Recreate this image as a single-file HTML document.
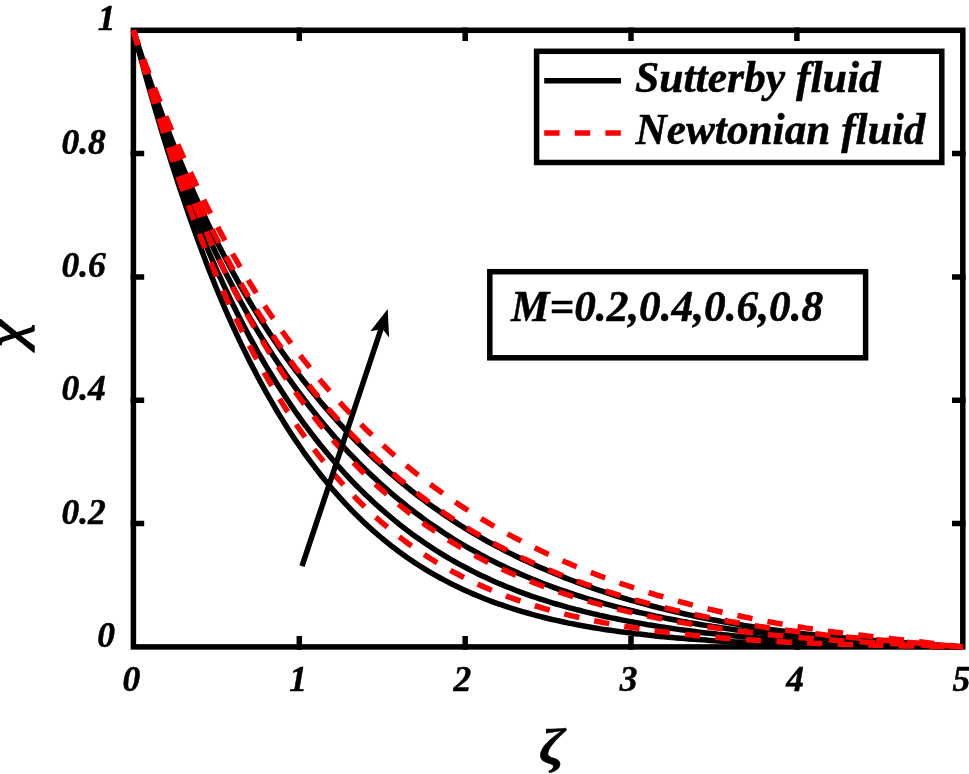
<!DOCTYPE html>
<html><head><meta charset="utf-8"><title>Sutterby fluid vs Newtonian fluid</title>
<style>
html,body{margin:0;padding:0;background:#fff;}
body{width:969px;height:774px;overflow:hidden;position:relative;}
svg{display:block;position:absolute;left:0;top:0;}
text{font-family:"Liberation Serif","DejaVu Serif",serif;font-weight:bold;font-style:italic;fill:#000;stroke:#000;stroke-width:0.5px;}
.tk{font-size:35.5px;}
.lg{font-size:43.3px;}
.ax{fill:none;stroke:#000;stroke-width:5.5;stroke-linecap:butt;}
.bk{fill:none;stroke:#000;stroke-width:5.5;stroke-linejoin:round;}
.rd{fill:none;stroke:#f00;stroke-width:5.5;stroke-dasharray:15.4 15.2;stroke-linejoin:round;}
</style></head><body>
<svg width="969" height="774" viewBox="0 0 969 774">
<rect x="0" y="0" width="969" height="774" fill="#fff"/>

<!-- axes -->
<rect class="ax" x="133.4" y="30.3" width="829.4" height="616.6"/>
<path class="ax" d="M299.3,27.55 V41.1 M299.3,649.65 V636.1 M465.2,27.55 V41.1 M465.2,649.65 V636.1 M631.0,27.55 V41.1 M631.0,649.65 V636.1 M796.9,27.55 V41.1 M796.9,649.65 V636.1 M130.65,523.6 H144.2 M965.55,523.6 H952.0 M130.65,400.3 H144.2 M965.55,400.3 H952.0 M130.65,276.9 H144.2 M965.55,276.9 H952.0 M130.65,153.6 H144.2 M965.55,153.6 H952.0"/>
<!-- curves: solid = Sutterby fluid, dashed = Newtonian fluid -->
<g>
<path class="bk" d="M133.4,30.3 L137.5,46.0 L141.7,61.4 L145.8,76.4 L150.0,91.2 L154.1,105.6 L158.3,119.7 L162.4,133.5 L166.6,147.0 L170.7,160.3 L174.9,173.2 L179.0,185.9 L183.2,198.2 L187.3,210.4 L191.5,222.3 L195.6,233.9 L199.8,245.3 L203.9,256.4 L208.0,267.2 L212.2,277.7 L216.3,288.0 L220.5,297.9 L224.6,307.7 L228.8,317.1 L232.9,326.3 L237.1,335.3 L241.2,344.1 L245.4,352.6 L249.5,361.0 L253.7,369.1 L257.8,377.0 L262.0,384.7 L266.1,392.2 L270.3,399.5 L274.4,406.7 L278.5,413.6 L282.7,420.4 L286.8,427.0 L291.0,433.5 L295.1,439.7 L299.3,445.8 L303.4,451.8 L307.6,457.6 L311.7,463.2 L315.9,468.7 L320.0,474.0 L324.2,479.2 L328.3,484.3 L332.5,489.2 L336.6,493.9 L340.8,498.6 L344.9,503.1 L349.0,507.5 L353.2,511.8 L357.3,515.9 L361.5,520.0 L365.6,523.9 L369.8,527.7 L373.9,531.4 L378.1,535.0 L382.2,538.5 L386.4,541.9 L390.5,545.2 L394.7,548.4 L398.8,551.5 L403.0,554.5 L407.1,557.5 L411.2,560.3 L415.4,563.1 L419.5,565.7 L423.7,568.3 L427.8,570.9 L432.0,573.3 L436.1,575.7 L440.3,578.0 L444.4,580.2 L448.6,582.4 L452.7,584.5 L456.9,586.5 L461.0,588.5 L465.2,590.4 L469.3,592.3 L473.5,594.1 L477.6,595.8 L481.7,597.5 L485.9,599.2 L490.0,600.8 L494.2,602.3 L498.3,603.8 L502.5,605.2 L506.6,606.6 L510.8,608.0 L514.9,609.3 L519.1,610.6 L523.2,611.8 L527.4,613.0 L531.5,614.2 L535.7,615.3 L539.8,616.4 L544.0,617.5 L548.1,618.5 L552.2,619.5 L556.4,620.4 L560.5,621.3 L564.7,622.2 L568.8,623.1 L573.0,623.9 L577.1,624.8 L581.3,625.5 L585.4,626.3 L589.6,627.0 L593.7,627.7 L597.9,628.4 L602.0,629.1 L606.2,629.7 L610.3,630.3 L614.5,630.9 L618.6,631.5 L622.7,632.1 L626.9,632.6 L631.0,633.1 L635.2,633.7 L639.3,634.1 L643.5,634.6 L647.6,635.1 L651.8,635.5 L655.9,635.9 L660.1,636.4 L664.2,636.8 L668.4,637.2 L672.5,637.5 L676.7,637.9 L680.8,638.2 L685.0,638.6 L689.1,638.9 L693.2,639.2 L697.4,639.5 L701.5,639.8 L705.7,640.1 L709.8,640.4 L714.0,640.7 L718.1,640.9 L722.3,641.2 L726.4,641.4 L730.6,641.6 L734.7,641.9 L738.9,642.1 L743.0,642.3 L747.2,642.5 L751.3,642.7 L755.4,642.9 L759.6,643.0 L763.7,643.2 L767.9,643.4 L772.0,643.5 L776.2,643.7 L780.3,643.8 L784.5,644.0 L788.6,644.1 L792.8,644.3 L796.9,644.4 L801.1,644.5 L805.2,644.6 L809.4,644.7 L813.5,644.8 L817.7,645.0 L821.8,645.1 L825.9,645.1 L830.1,645.2 L834.2,645.3 L838.4,645.4 L842.5,645.5 L846.7,645.6 L850.8,645.6 L855.0,645.7 L859.1,645.8 L863.3,645.8 L867.4,645.9 L871.6,646.0 L875.7,646.0 L879.9,646.1 L884.0,646.1 L888.2,646.2 L892.3,646.2 L896.4,646.3 L900.6,646.3 L904.7,646.4 L908.9,646.4 L913.0,646.5 L917.2,646.5 L921.3,646.6 L925.5,646.6 L929.6,646.6 L933.8,646.7 L937.9,646.7 L942.1,646.8 L946.2,646.8 L950.4,646.8 L954.5,646.8 L958.7,646.9 L962.8,646.9"/>
<path class="bk" d="M133.4,30.3 L137.5,45.2 L141.7,59.7 L145.8,73.9 L150.0,87.7 L154.1,101.2 L158.3,114.4 L162.4,127.2 L166.6,139.8 L170.7,152.0 L174.9,164.0 L179.0,175.7 L183.2,187.1 L187.3,198.2 L191.5,209.0 L195.6,219.6 L199.8,230.0 L203.9,240.1 L208.0,250.0 L212.2,259.6 L216.3,269.0 L220.5,278.2 L224.6,287.2 L228.8,296.0 L232.9,304.5 L237.1,312.9 L241.2,321.0 L245.4,329.0 L249.5,336.8 L253.7,344.3 L257.8,351.8 L262.0,359.0 L266.1,366.1 L270.3,373.0 L274.4,379.7 L278.5,386.3 L282.7,392.7 L286.8,399.0 L291.0,405.2 L295.1,411.2 L299.3,417.1 L303.4,422.8 L307.6,428.4 L311.7,433.9 L315.9,439.2 L320.0,444.5 L324.2,449.6 L328.3,454.6 L332.5,459.5 L336.6,464.3 L340.8,468.9 L344.9,473.5 L349.0,477.9 L353.2,482.3 L357.3,486.5 L361.5,490.6 L365.6,494.7 L369.8,498.6 L373.9,502.5 L378.1,506.2 L382.2,509.9 L386.4,513.5 L390.5,517.0 L394.7,520.5 L398.8,523.8 L403.0,527.1 L407.1,530.3 L411.2,533.4 L415.4,536.4 L419.5,539.3 L423.7,542.2 L427.8,545.0 L432.0,547.8 L436.1,550.5 L440.3,553.1 L444.4,555.6 L448.6,558.1 L452.7,560.5 L456.9,562.8 L461.0,565.1 L465.2,567.3 L469.3,569.5 L473.5,571.6 L477.6,573.7 L481.7,575.7 L485.9,577.6 L490.0,579.5 L494.2,581.4 L498.3,583.2 L502.5,584.9 L506.6,586.7 L510.8,588.3 L514.9,590.0 L519.1,591.6 L523.2,593.1 L527.4,594.6 L531.5,596.1 L535.7,597.5 L539.8,598.9 L544.0,600.2 L548.1,601.5 L552.2,602.8 L556.4,604.0 L560.5,605.2 L564.7,606.4 L568.8,607.6 L573.0,608.7 L577.1,609.8 L581.3,610.8 L585.4,611.9 L589.6,612.9 L593.7,613.9 L597.9,614.8 L602.0,615.8 L606.2,616.7 L610.3,617.6 L614.5,618.4 L618.6,619.3 L622.7,620.1 L626.9,620.9 L631.0,621.7 L635.2,622.5 L639.3,623.2 L643.5,623.9 L647.6,624.7 L651.8,625.3 L655.9,626.0 L660.1,626.7 L664.2,627.3 L668.4,627.9 L672.5,628.5 L676.7,629.1 L680.8,629.7 L685.0,630.3 L689.1,630.8 L693.2,631.3 L697.4,631.9 L701.5,632.4 L705.7,632.9 L709.8,633.3 L714.0,633.8 L718.1,634.3 L722.3,634.7 L726.4,635.1 L730.6,635.5 L734.7,635.9 L738.9,636.3 L743.0,636.7 L747.2,637.1 L751.3,637.5 L755.4,637.8 L759.6,638.2 L763.7,638.5 L767.9,638.8 L772.0,639.1 L776.2,639.4 L780.3,639.7 L784.5,640.0 L788.6,640.3 L792.8,640.6 L796.9,640.9 L801.1,641.1 L805.2,641.4 L809.4,641.6 L813.5,641.8 L817.7,642.1 L821.8,642.3 L825.9,642.5 L830.1,642.7 L834.2,642.9 L838.4,643.1 L842.5,643.3 L846.7,643.4 L850.8,643.6 L855.0,643.8 L859.1,643.9 L863.3,644.1 L867.4,644.2 L871.6,644.3 L875.7,644.5 L879.9,644.6 L884.0,644.8 L888.2,644.9 L892.3,645.0 L896.4,645.2 L900.6,645.3 L904.7,645.4 L908.9,645.5 L913.0,645.7 L917.2,645.8 L921.3,645.9 L925.5,646.0 L929.6,646.1 L933.8,646.2 L937.9,646.3 L942.1,646.4 L946.2,646.5 L950.4,646.6 L954.5,646.7 L958.7,646.8 L962.8,646.9"/>
<path class="bk" d="M133.4,30.3 L137.5,44.4 L141.7,58.2 L145.8,71.5 L150.0,84.6 L154.1,97.3 L158.3,109.7 L162.4,121.7 L166.6,133.5 L170.7,144.9 L174.9,156.1 L179.0,167.0 L183.2,177.6 L187.3,188.0 L191.5,198.1 L195.6,208.0 L199.8,217.6 L203.9,227.0 L208.0,236.2 L212.2,245.2 L216.3,254.0 L220.5,262.6 L224.6,270.9 L228.8,279.1 L232.9,287.1 L237.1,294.9 L241.2,302.5 L245.4,310.0 L249.5,317.3 L253.7,324.4 L257.8,331.3 L262.0,338.1 L266.1,344.7 L270.3,351.2 L274.4,357.6 L278.5,363.8 L282.7,369.9 L286.8,375.8 L291.0,381.7 L295.1,387.4 L299.3,393.0 L303.4,398.5 L307.6,404.0 L311.7,409.3 L315.9,414.5 L320.0,419.6 L324.2,424.7 L328.3,429.6 L332.5,434.4 L336.6,439.2 L340.8,443.8 L344.9,448.4 L349.0,452.8 L353.2,457.2 L357.3,461.5 L361.5,465.6 L365.6,469.7 L369.8,473.7 L373.9,477.6 L378.1,481.5 L382.2,485.2 L386.4,488.9 L390.5,492.5 L394.7,496.1 L398.8,499.5 L403.0,502.9 L407.1,506.3 L411.2,509.5 L415.4,512.7 L419.5,515.8 L423.7,518.9 L427.8,521.9 L432.0,524.8 L436.1,527.6 L440.3,530.4 L444.4,533.2 L448.6,535.9 L452.7,538.5 L456.9,541.0 L461.0,543.5 L465.2,546.0 L469.3,548.4 L473.5,550.7 L477.6,553.0 L481.7,555.3 L485.9,557.5 L490.0,559.6 L494.2,561.7 L498.3,563.8 L502.5,565.8 L506.6,567.8 L510.8,569.7 L514.9,571.6 L519.1,573.4 L523.2,575.3 L527.4,577.0 L531.5,578.7 L535.7,580.4 L539.8,582.1 L544.0,583.7 L548.1,585.3 L552.2,586.8 L556.4,588.3 L560.5,589.8 L564.7,591.2 L568.8,592.7 L573.0,594.0 L577.1,595.4 L581.3,596.7 L585.4,598.0 L589.6,599.3 L593.7,600.5 L597.9,601.7 L602.0,602.9 L606.2,604.1 L610.3,605.2 L614.5,606.3 L618.6,607.4 L622.7,608.5 L626.9,609.5 L631.0,610.5 L635.2,611.5 L639.3,612.5 L643.5,613.4 L647.6,614.3 L651.8,615.3 L655.9,616.1 L660.1,617.0 L664.2,617.9 L668.4,618.7 L672.5,619.5 L676.7,620.3 L680.8,621.1 L685.0,621.8 L689.1,622.6 L693.2,623.3 L697.4,624.0 L701.5,624.7 L705.7,625.4 L709.8,626.0 L714.0,626.7 L718.1,627.3 L722.3,627.9 L726.4,628.5 L730.6,629.1 L734.7,629.7 L738.9,630.2 L743.0,630.8 L747.2,631.3 L751.3,631.8 L755.4,632.3 L759.6,632.8 L763.7,633.3 L767.9,633.8 L772.0,634.2 L776.2,634.7 L780.3,635.1 L784.5,635.5 L788.6,635.9 L792.8,636.3 L796.9,636.7 L801.1,637.1 L805.2,637.5 L809.4,637.8 L813.5,638.2 L817.7,638.5 L821.8,638.9 L825.9,639.2 L830.1,639.5 L834.2,639.8 L838.4,640.1 L842.5,640.4 L846.7,640.7 L850.8,640.9 L855.0,641.2 L859.1,641.4 L863.3,641.7 L867.4,641.9 L871.6,642.2 L875.7,642.4 L879.9,642.6 L884.0,642.9 L888.2,643.1 L892.3,643.3 L896.4,643.5 L900.6,643.8 L904.7,644.0 L908.9,644.2 L913.0,644.4 L917.2,644.7 L921.3,644.9 L925.5,645.1 L929.6,645.3 L933.8,645.5 L937.9,645.7 L942.1,645.9 L946.2,646.1 L950.4,646.3 L954.5,646.5 L958.7,646.7 L962.8,646.9"/>
<path class="bk" d="M133.4,30.3 L137.5,43.4 L141.7,56.1 L145.8,68.5 L150.0,80.7 L154.1,92.5 L158.3,104.1 L162.4,115.4 L166.6,126.4 L170.7,137.2 L174.9,147.7 L179.0,158.0 L183.2,168.0 L187.3,177.8 L191.5,187.4 L195.6,196.8 L199.8,205.9 L203.9,214.9 L208.0,223.7 L212.2,232.2 L216.3,240.6 L220.5,248.8 L224.6,256.8 L228.8,264.7 L232.9,272.4 L237.1,279.9 L241.2,287.3 L245.4,294.5 L249.5,301.5 L253.7,308.4 L257.8,315.1 L262.0,321.7 L266.1,328.1 L270.3,334.4 L274.4,340.6 L278.5,346.7 L282.7,352.6 L286.8,358.4 L291.0,364.1 L295.1,369.7 L299.3,375.1 L303.4,380.5 L307.6,385.8 L311.7,391.0 L315.9,396.1 L320.0,401.2 L324.2,406.1 L328.3,410.9 L332.5,415.6 L336.6,420.3 L340.8,424.9 L344.9,429.3 L349.0,433.7 L353.2,438.0 L357.3,442.3 L361.5,446.4 L365.6,450.5 L369.8,454.5 L373.9,458.4 L378.1,462.2 L382.2,466.0 L386.4,469.7 L390.5,473.4 L394.7,476.9 L398.8,480.4 L403.0,483.9 L407.1,487.2 L411.2,490.5 L415.4,493.8 L419.5,497.0 L423.7,500.1 L427.8,503.2 L432.0,506.2 L436.1,509.1 L440.3,512.0 L444.4,514.9 L448.6,517.7 L452.7,520.4 L456.9,523.1 L461.0,525.7 L465.2,528.3 L469.3,530.8 L473.5,533.3 L477.6,535.7 L481.7,538.1 L485.9,540.5 L490.0,542.8 L494.2,545.0 L498.3,547.2 L502.5,549.4 L506.6,551.5 L510.8,553.6 L514.9,555.7 L519.1,557.7 L523.2,559.7 L527.4,561.6 L531.5,563.5 L535.7,565.4 L539.8,567.2 L544.0,569.0 L548.1,570.8 L552.2,572.5 L556.4,574.3 L560.5,575.9 L564.7,577.6 L568.8,579.2 L573.0,580.8 L577.1,582.4 L581.3,583.9 L585.4,585.5 L589.6,586.9 L593.7,588.4 L597.9,589.8 L602.0,591.2 L606.2,592.6 L610.3,594.0 L614.5,595.3 L618.6,596.6 L622.7,597.8 L626.9,599.1 L631.0,600.3 L635.2,601.4 L639.3,602.6 L643.5,603.7 L647.6,604.9 L651.8,606.0 L655.9,607.0 L660.1,608.1 L664.2,609.1 L668.4,610.1 L672.5,611.1 L676.7,612.1 L680.8,613.0 L685.0,614.0 L689.1,614.9 L693.2,615.8 L697.4,616.7 L701.5,617.5 L705.7,618.4 L709.8,619.2 L714.0,620.0 L718.1,620.8 L722.3,621.6 L726.4,622.3 L730.6,623.1 L734.7,623.8 L738.9,624.5 L743.0,625.2 L747.2,625.9 L751.3,626.5 L755.4,627.2 L759.6,627.8 L763.7,628.4 L767.9,629.0 L772.0,629.6 L776.2,630.2 L780.3,630.8 L784.5,631.3 L788.6,631.9 L792.8,632.4 L796.9,632.9 L801.1,633.4 L805.2,633.9 L809.4,634.4 L813.5,634.8 L817.7,635.3 L821.8,635.7 L825.9,636.2 L830.1,636.6 L834.2,637.0 L838.4,637.4 L842.5,637.8 L846.7,638.1 L850.8,638.5 L855.0,638.9 L859.1,639.2 L863.3,639.5 L867.4,639.8 L871.6,640.2 L875.7,640.5 L879.9,640.8 L884.0,641.1 L888.2,641.5 L892.3,641.8 L896.4,642.1 L900.6,642.4 L904.7,642.7 L908.9,643.0 L913.0,643.3 L917.2,643.6 L921.3,644.0 L925.5,644.3 L929.6,644.6 L933.8,644.9 L937.9,645.2 L942.1,645.5 L946.2,645.8 L950.4,646.0 L954.5,646.3 L958.7,646.6 L962.8,646.9"/>
<path class="rd" d="M133.4,30.3 L137.5,45.5 L141.7,60.3 L145.8,74.7 L150.0,88.9 L154.1,102.7 L158.3,116.1 L162.4,129.3 L166.6,142.2 L170.7,154.7 L174.9,167.0 L179.0,179.0 L183.2,190.7 L187.3,202.2 L191.5,213.4 L195.6,224.3 L199.8,235.0 L203.9,245.5 L208.0,255.7 L212.2,265.7 L216.3,275.4 L220.5,284.9 L224.6,294.2 L228.8,303.3 L232.9,312.2 L237.1,320.9 L241.2,329.3 L245.4,337.6 L249.5,345.7 L253.7,353.6 L257.8,361.3 L262.0,368.8 L266.1,376.2 L270.3,383.3 L274.4,390.3 L278.5,397.2 L282.7,403.9 L286.8,410.4 L291.0,416.7 L295.1,422.9 L299.3,429.0 L303.4,434.9 L307.6,440.6 L311.7,446.3 L315.9,451.7 L320.0,457.1 L324.2,462.3 L328.3,467.4 L332.5,472.3 L336.6,477.2 L340.8,481.9 L344.9,486.5 L349.0,490.9 L353.2,495.3 L357.3,499.5 L361.5,503.7 L365.6,507.7 L369.8,511.6 L373.9,515.5 L378.1,519.2 L382.2,522.8 L386.4,526.4 L390.5,529.8 L394.7,533.2 L398.8,536.4 L403.0,539.6 L407.1,542.7 L411.2,545.7 L415.4,548.6 L419.5,551.5 L423.7,554.2 L427.8,556.9 L432.0,559.5 L436.1,562.1 L440.3,564.6 L444.4,567.0 L448.6,569.3 L452.7,571.6 L456.9,573.8 L461.0,576.0 L465.2,578.1 L469.3,580.1 L473.5,582.1 L477.6,584.0 L481.7,585.9 L485.9,587.7 L490.0,589.5 L494.2,591.2 L498.3,592.9 L502.5,594.5 L506.6,596.1 L510.8,597.6 L514.9,599.1 L519.1,600.6 L523.2,602.0 L527.4,603.4 L531.5,604.7 L535.7,606.0 L539.8,607.2 L544.0,608.5 L548.1,609.6 L552.2,610.8 L556.4,611.9 L560.5,613.0 L564.7,614.1 L568.8,615.1 L573.0,616.1 L577.1,617.0 L581.3,618.0 L585.4,618.9 L589.6,619.8 L593.7,620.6 L597.9,621.5 L602.0,622.3 L606.2,623.1 L610.3,623.8 L614.5,624.6 L618.6,625.3 L622.7,626.0 L626.9,626.7 L631.0,627.3 L635.2,628.0 L639.3,628.6 L643.5,629.2 L647.6,629.8 L651.8,630.4 L655.9,630.9 L660.1,631.5 L664.2,632.0 L668.4,632.5 L672.5,633.0 L676.7,633.5 L680.8,633.9 L685.0,634.4 L689.1,634.8 L693.2,635.3 L697.4,635.7 L701.5,636.1 L705.7,636.5 L709.8,636.8 L714.0,637.2 L718.1,637.6 L722.3,637.9 L726.4,638.2 L730.6,638.6 L734.7,638.9 L738.9,639.2 L743.0,639.5 L747.2,639.8 L751.3,640.0 L755.4,640.3 L759.6,640.6 L763.7,640.8 L767.9,641.1 L772.0,641.3 L776.2,641.5 L780.3,641.8 L784.5,642.0 L788.6,642.2 L792.8,642.4 L796.9,642.6 L801.1,642.8 L805.2,642.9 L809.4,643.1 L813.5,643.3 L817.7,643.5 L821.8,643.6 L825.9,643.8 L830.1,643.9 L834.2,644.1 L838.4,644.2 L842.5,644.3 L846.7,644.5 L850.8,644.6 L855.0,644.7 L859.1,644.8 L863.3,644.9 L867.4,645.0 L871.6,645.1 L875.7,645.2 L879.9,645.3 L884.0,645.4 L888.2,645.5 L892.3,645.6 L896.4,645.7 L900.6,645.8 L904.7,645.9 L908.9,646.0 L913.0,646.0 L917.2,646.1 L921.3,646.2 L925.5,646.3 L929.6,646.4 L933.8,646.4 L937.9,646.5 L942.1,646.6 L946.2,646.7 L950.4,646.7 L954.5,646.8 L958.7,646.8 L962.8,646.9"/>
<path class="rd" d="M133.4,30.3 L137.5,44.1 L141.7,57.6 L145.8,70.7 L150.0,83.6 L154.1,96.1 L158.3,108.4 L162.4,120.3 L166.6,132.1 L170.7,143.5 L174.9,154.7 L179.0,165.6 L183.2,176.3 L187.3,186.8 L191.5,197.0 L195.6,207.0 L199.8,216.7 L203.9,226.3 L208.0,235.7 L212.2,244.8 L216.3,253.8 L220.5,262.5 L224.6,271.1 L228.8,279.5 L232.9,287.7 L237.1,295.7 L241.2,303.5 L245.4,311.2 L249.5,318.7 L253.7,326.1 L257.8,333.3 L262.0,340.3 L266.1,347.2 L270.3,354.0 L274.4,360.6 L278.5,367.0 L282.7,373.4 L286.8,379.6 L291.0,385.6 L295.1,391.5 L299.3,397.3 L303.4,403.0 L307.6,408.6 L311.7,414.0 L315.9,419.3 L320.0,424.5 L324.2,429.6 L328.3,434.6 L332.5,439.5 L336.6,444.2 L340.8,448.9 L344.9,453.5 L349.0,457.9 L353.2,462.3 L357.3,466.6 L361.5,470.7 L365.6,474.8 L369.8,478.8 L373.9,482.8 L378.1,486.6 L382.2,490.3 L386.4,494.0 L390.5,497.6 L394.7,501.1 L398.8,504.5 L403.0,507.9 L407.1,511.1 L411.2,514.3 L415.4,517.5 L419.5,520.5 L423.7,523.5 L427.8,526.5 L432.0,529.3 L436.1,532.1 L440.3,534.9 L444.4,537.5 L448.6,540.2 L452.7,542.7 L456.9,545.2 L461.0,547.7 L465.2,550.1 L469.3,552.4 L473.5,554.7 L477.6,556.9 L481.7,559.1 L485.9,561.3 L490.0,563.3 L494.2,565.4 L498.3,567.4 L502.5,569.3 L506.6,571.2 L510.8,573.1 L514.9,574.9 L519.1,576.7 L523.2,578.5 L527.4,580.2 L531.5,581.8 L535.7,583.5 L539.8,585.0 L544.0,586.6 L548.1,588.1 L552.2,589.6 L556.4,591.1 L560.5,592.5 L564.7,593.9 L568.8,595.2 L573.0,596.6 L577.1,597.9 L581.3,599.1 L585.4,600.4 L589.6,601.6 L593.7,602.8 L597.9,603.9 L602.0,605.1 L606.2,606.2 L610.3,607.3 L614.5,608.3 L618.6,609.3 L622.7,610.4 L626.9,611.3 L631.0,612.3 L635.2,613.3 L639.3,614.2 L643.5,615.1 L647.6,616.0 L651.8,616.8 L655.9,617.7 L660.1,618.5 L664.2,619.3 L668.4,620.1 L672.5,620.9 L676.7,621.6 L680.8,622.4 L685.0,623.1 L689.1,623.8 L693.2,624.5 L697.4,625.2 L701.5,625.8 L705.7,626.5 L709.8,627.1 L714.0,627.7 L718.1,628.3 L722.3,628.9 L726.4,629.5 L730.6,630.0 L734.7,630.6 L738.9,631.1 L743.0,631.6 L747.2,632.1 L751.3,632.6 L755.4,633.1 L759.6,633.6 L763.7,634.0 L767.9,634.5 L772.0,634.9 L776.2,635.4 L780.3,635.8 L784.5,636.2 L788.6,636.6 L792.8,637.0 L796.9,637.3 L801.1,637.7 L805.2,638.1 L809.4,638.4 L813.5,638.7 L817.7,639.1 L821.8,639.4 L825.9,639.7 L830.1,640.0 L834.2,640.3 L838.4,640.6 L842.5,640.8 L846.7,641.1 L850.8,641.4 L855.0,641.6 L859.1,641.8 L863.3,642.1 L867.4,642.3 L871.6,642.5 L875.7,642.7 L879.9,643.0 L884.0,643.2 L888.2,643.4 L892.3,643.6 L896.4,643.8 L900.6,644.0 L904.7,644.2 L908.9,644.4 L913.0,644.7 L917.2,644.9 L921.3,645.1 L925.5,645.3 L929.6,645.4 L933.8,645.6 L937.9,645.8 L942.1,646.0 L946.2,646.2 L950.4,646.4 L954.5,646.6 L958.7,646.7 L962.8,646.9"/>
<path class="rd" d="M133.4,30.3 L137.5,43.2 L141.7,55.8 L145.8,68.1 L150.0,80.0 L154.1,91.7 L158.3,103.1 L162.4,114.2 L166.6,125.1 L170.7,135.7 L174.9,146.1 L179.0,156.2 L183.2,166.1 L187.3,175.8 L191.5,185.2 L195.6,194.5 L199.8,203.6 L203.9,212.4 L208.0,221.1 L212.2,229.6 L216.3,237.9 L220.5,246.0 L224.6,254.0 L228.8,261.7 L232.9,269.4 L237.1,276.9 L241.2,284.2 L245.4,291.4 L249.5,298.4 L253.7,305.3 L257.8,312.0 L262.0,318.6 L266.1,325.1 L270.3,331.5 L274.4,337.7 L278.5,343.9 L282.7,349.8 L286.8,355.7 L291.0,361.5 L295.1,367.2 L299.3,372.7 L303.4,378.1 L307.6,383.5 L311.7,388.7 L315.9,393.9 L320.0,398.9 L324.2,403.8 L328.3,408.7 L332.5,413.5 L336.6,418.1 L340.8,422.7 L344.9,427.2 L349.0,431.6 L353.2,435.9 L357.3,440.2 L361.5,444.4 L365.6,448.5 L369.8,452.5 L373.9,456.4 L378.1,460.3 L382.2,464.1 L386.4,467.8 L390.5,471.5 L394.7,475.0 L398.8,478.6 L403.0,482.0 L407.1,485.4 L411.2,488.7 L415.4,492.0 L419.5,495.2 L423.7,498.3 L427.8,501.4 L432.0,504.4 L436.1,507.4 L440.3,510.3 L444.4,513.2 L448.6,516.0 L452.7,518.7 L456.9,521.4 L461.0,524.1 L465.2,526.7 L469.3,529.3 L473.5,531.8 L477.6,534.2 L481.7,536.6 L485.9,539.0 L490.0,541.3 L494.2,543.6 L498.3,545.8 L502.5,548.0 L506.6,550.2 L510.8,552.3 L514.9,554.3 L519.1,556.4 L523.2,558.4 L527.4,560.3 L531.5,562.2 L535.7,564.1 L539.8,566.0 L544.0,567.8 L548.1,569.5 L552.2,571.3 L556.4,573.0 L560.5,574.7 L564.7,576.3 L568.8,577.9 L573.0,579.5 L577.1,581.1 L581.3,582.6 L585.4,584.1 L589.6,585.5 L593.7,587.0 L597.9,588.4 L602.0,589.8 L606.2,591.1 L610.3,592.5 L614.5,593.8 L618.6,595.0 L622.7,596.3 L626.9,597.5 L631.0,598.7 L635.2,599.9 L639.3,601.1 L643.5,602.2 L647.6,603.3 L651.8,604.4 L655.9,605.5 L660.1,606.5 L664.2,607.6 L668.4,608.6 L672.5,609.6 L676.7,610.6 L680.8,611.5 L685.0,612.4 L689.1,613.4 L693.2,614.3 L697.4,615.1 L701.5,616.0 L705.7,616.9 L709.8,617.7 L714.0,618.5 L718.1,619.3 L722.3,620.1 L726.4,620.8 L730.6,621.6 L734.7,622.3 L738.9,623.0 L743.0,623.7 L747.2,624.4 L751.3,625.1 L755.4,625.8 L759.6,626.4 L763.7,627.0 L767.9,627.7 L772.0,628.3 L776.2,628.9 L780.3,629.4 L784.5,630.0 L788.6,630.6 L792.8,631.1 L796.9,631.6 L801.1,632.1 L805.2,632.6 L809.4,633.1 L813.5,633.6 L817.7,634.1 L821.8,634.5 L825.9,635.0 L830.1,635.4 L834.2,635.9 L838.4,636.3 L842.5,636.7 L846.7,637.1 L850.8,637.4 L855.0,637.8 L859.1,638.2 L863.3,638.5 L867.4,638.9 L871.6,639.2 L875.7,639.6 L879.9,639.9 L884.0,640.3 L888.2,640.6 L892.3,641.0 L896.4,641.4 L900.6,641.7 L904.7,642.1 L908.9,642.4 L913.0,642.8 L917.2,643.1 L921.3,643.4 L925.5,643.8 L929.6,644.1 L933.8,644.5 L937.9,644.8 L942.1,645.2 L946.2,645.5 L950.4,645.9 L954.5,646.2 L958.7,646.6 L962.8,646.9"/>
<path class="rd" d="M133.4,30.3 L137.5,42.2 L141.7,53.8 L145.8,65.1 L150.0,76.2 L154.1,87.1 L158.3,97.7 L162.4,108.0 L166.6,118.2 L170.7,128.1 L174.9,137.8 L179.0,147.3 L183.2,156.6 L187.3,165.7 L191.5,174.6 L195.6,183.4 L199.8,191.9 L203.9,200.3 L208.0,208.5 L212.2,216.6 L216.3,224.5 L220.5,232.2 L224.6,239.8 L228.8,247.2 L232.9,254.5 L237.1,261.7 L241.2,268.7 L245.4,275.6 L249.5,282.3 L253.7,289.0 L257.8,295.5 L262.0,301.8 L266.1,308.1 L270.3,314.3 L274.4,320.3 L278.5,326.2 L282.7,332.0 L286.8,337.7 L291.0,343.4 L295.1,348.9 L299.3,354.3 L303.4,359.6 L307.6,364.8 L311.7,369.9 L315.9,375.0 L320.0,379.9 L324.2,384.8 L328.3,389.5 L332.5,394.2 L336.6,398.8 L340.8,403.4 L344.9,407.8 L349.0,412.2 L353.2,416.5 L357.3,420.7 L361.5,424.9 L365.6,429.0 L369.8,433.0 L373.9,436.9 L378.1,440.8 L382.2,444.6 L386.4,448.3 L390.5,452.0 L394.7,455.6 L398.8,459.2 L403.0,462.7 L407.1,466.1 L411.2,469.5 L415.4,472.8 L419.5,476.1 L423.7,479.3 L427.8,482.4 L432.0,485.5 L436.1,488.6 L440.3,491.6 L444.4,494.5 L448.6,497.4 L452.7,500.3 L456.9,503.1 L461.0,505.9 L465.2,508.6 L469.3,511.2 L473.5,513.8 L477.6,516.4 L481.7,519.0 L485.9,521.4 L490.0,523.9 L494.2,526.3 L498.3,528.7 L502.5,531.0 L506.6,533.3 L510.8,535.6 L514.9,537.8 L519.1,539.9 L523.2,542.1 L527.4,544.2 L531.5,546.3 L535.7,548.3 L539.8,550.3 L544.0,552.3 L548.1,554.2 L552.2,556.1 L556.4,558.0 L560.5,559.8 L564.7,561.7 L568.8,563.4 L573.0,565.2 L577.1,566.9 L581.3,568.6 L585.4,570.3 L589.6,571.9 L593.7,573.5 L597.9,575.1 L602.0,576.7 L606.2,578.2 L610.3,579.7 L614.5,581.2 L618.6,582.7 L622.7,584.1 L626.9,585.5 L631.0,586.9 L635.2,588.3 L639.3,589.6 L643.5,591.0 L647.6,592.2 L651.8,593.5 L655.9,594.8 L660.1,596.0 L664.2,597.2 L668.4,598.4 L672.5,599.6 L676.7,600.7 L680.8,601.9 L685.0,603.0 L689.1,604.1 L693.2,605.2 L697.4,606.2 L701.5,607.3 L705.7,608.3 L709.8,609.3 L714.0,610.3 L718.1,611.2 L722.3,612.2 L726.4,613.1 L730.6,614.0 L734.7,614.9 L738.9,615.8 L743.0,616.7 L747.2,617.5 L751.3,618.4 L755.4,619.2 L759.6,620.0 L763.7,620.8 L767.9,621.6 L772.0,622.3 L776.2,623.1 L780.3,623.8 L784.5,624.5 L788.6,625.2 L792.8,625.9 L796.9,626.6 L801.1,627.2 L805.2,627.9 L809.4,628.5 L813.5,629.1 L817.7,629.7 L821.8,630.3 L825.9,630.9 L830.1,631.4 L834.2,632.0 L838.4,632.5 L842.5,633.0 L846.7,633.5 L850.8,634.0 L855.0,634.5 L859.1,635.0 L863.3,635.5 L867.4,635.9 L871.6,636.4 L875.7,636.9 L879.9,637.3 L884.0,637.8 L888.2,638.3 L892.3,638.8 L896.4,639.2 L900.6,639.7 L904.7,640.2 L908.9,640.7 L913.0,641.1 L917.2,641.6 L921.3,642.1 L925.5,642.6 L929.6,643.0 L933.8,643.5 L937.9,644.0 L942.1,644.5 L946.2,645.0 L950.4,645.4 L954.5,645.9 L958.7,646.4 L962.8,646.9"/>
</g>
<g class="tk">
<text x="131.4" y="691.3" text-anchor="middle">0</text>
<text x="298.0" y="691.3" text-anchor="middle">1</text>
<text x="462.3" y="691.3" text-anchor="middle">2</text>
<text x="628.7" y="691.3" text-anchor="middle">3</text>
<text x="795.2" y="691.3" text-anchor="middle">4</text>
<text x="961.3" y="691.3" text-anchor="middle">5</text>
<text x="115" y="646.9" text-anchor="end">0</text>
<text x="105.8" y="523.6" text-anchor="end">0.2</text>
<text x="105.8" y="400.3" text-anchor="end">0.4</text>
<text x="105.8" y="276.9" text-anchor="end">0.6</text>
<text x="105.8" y="153.6" text-anchor="end">0.8</text>
<text x="115.5" y="30.3" text-anchor="end">1</text>
</g>

<!-- legend -->
<rect class="ax" x="536.6" y="51.3" width="405.2" height="111.2" fill="#fff"/>
<path class="ax" d="M544.2,80.8 H621"/>
<path class="ax" d="M544.2,133 H621" style="stroke:#f00;stroke-dasharray:15.4 15.2"/>
<text class="lg" x="635" y="92.4" style="font-size:43.6px">Sutterby fluid</text>
<text class="lg" x="635.5" y="143.5">Newtonian fluid</text>
<!-- parameter box -->
<rect class="ax" x="489.8" y="271.7" width="375.8" height="86.1" fill="#fff"/>
<text class="lg" x="511" y="321.1">M=0.2,0.4,0.6,0.8</text>
<!-- arrow -->
<path class="ax" d="M302,566.2 L383,323"/>
<path d="M387.7,309.1 L370.3,331.2 L382.6,329 L389.1,337.4 Z" fill="#000"/>
<!-- axis labels -->
<text transform="translate(551.9,764) scale(1.17,1)" text-anchor="middle" style="font-size:50px">ζ</text>
<text transform="translate(22.5,334) rotate(-90) scale(1.18,1)" text-anchor="middle" style="font-size:50px;font-weight:normal;stroke-width:1.5px">χ</text>

</svg></body></html>
